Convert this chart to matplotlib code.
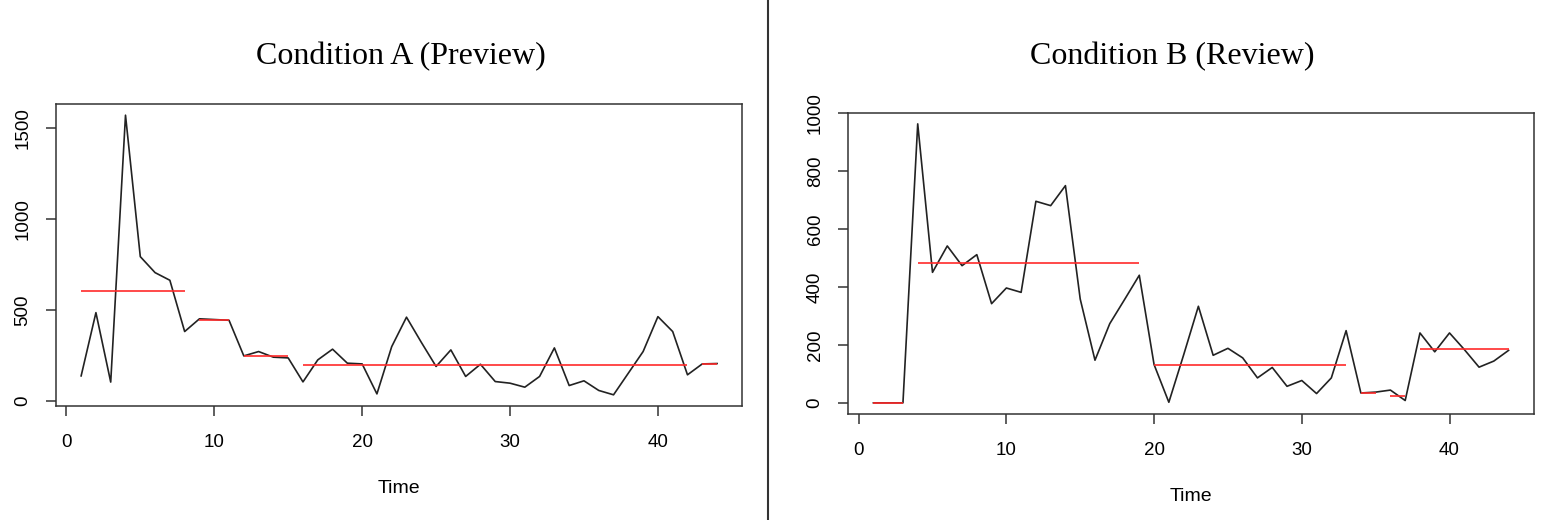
import matplotlib.pyplot as plt
from matplotlib.lines import Line2D

# Condition A (Preview)
time_a = list(range(1, 45))
values_a = [137, 485, 103, 1571, 793, 705, 663, 381, 451, 447,
            443, 247, 271, 240, 236, 104, 225, 284, 207, 203,
            38, 298, 460, 322, 189, 280, 134, 201, 106, 97,
            75, 134, 291, 84, 110, 57, 33, 152, 271, 463,
            381, 143, 203, 205]
seg_start_a = [1, 9, 12, 16, 43]
seg_end_a = [8, 11, 15, 42, 44]
seg_mean_a = [604, 445, 247, 198, 203]

# Condition B (Review)
time_b = list(range(1, 45))
values_b = [0, 0, 0, 962, 450, 541, 473, 511, 342, 396,
            381, 695, 680, 749, 358, 147, 273, 356, 440, 132,
            2, 165, 333, 164, 188, 155, 86, 122, 57, 77,
            32, 86, 249, 34, 37, 44, 8, 241, 176, 241,
            184, 123, 144, 181]
seg_start_b = [1, 4, 20, 34, 36, 38]
seg_end_b = [3, 19, 33, 35, 37, 44]
seg_mean_b = [0, 483, 132, 34, 25, 184]

W, H = 1549, 520
fig = plt.figure(figsize=(W / 100, H / 100), dpi=100)

sans = ["Liberation Sans", "DejaVu Sans"]
serif = ["Liberation Serif", "DejaVu Serif"]

panels = [
    ([55.7 / W, 1 - 406 / H, 686.8 / W, 302 / H], time_a, values_a,
     seg_start_a, seg_end_a, seg_mean_a, [0, 500, 1000, 1500],
     "Condition A (Preview)", 401),
    ([848 / W, 1 - 414 / H, 686 / W, 301.3 / H], time_b, values_b,
     seg_start_b, seg_end_b, seg_mean_b, [0, 200, 400, 600, 800, 1000],
     "Condition B (Review)", 1172),
]

for rect, t, v, s0, s1, m, yticks, title, tx in panels:
    ax = fig.add_axes(rect)
    ax.plot(t, v, color="#222222", lw=1.2)
    ax.hlines(m, s0, s1, color="#ff2a2a", lw=1.2)
    ax.margins(x=0.04, y=0.04)
    ax.set_xticks([0, 10, 20, 30, 40])
    ax.set_yticks(yticks)
    for sp in ax.spines.values():
        sp.set_color("#333333")
        sp.set_linewidth(1.1)
    ax.tick_params(axis="both", direction="out", length=7.5, width=1.1,
                   color="#333333", labelsize=13.5)
    ax.tick_params(axis="x", pad=12.5)
    ax.tick_params(axis="y", pad=10, labelrotation=90)
    for lab in ax.get_yticklabels():
        lab.set_verticalalignment("center")
    for lab in ax.get_xticklabels() + ax.get_yticklabels():
        lab.set_family(sans)
    ax.set_xlabel("Time", fontsize=14, family=sans, labelpad=21)
    fig.text(tx / W, 1 - 57 / H, title, ha="center", va="center",
             fontsize=23, family=serif)

fig.add_artist(Line2D([768 / W, 768 / W], [0, 1], color="#333333", lw=1.5))

fig.savefig("out.png", dpi=100, facecolor="white")
